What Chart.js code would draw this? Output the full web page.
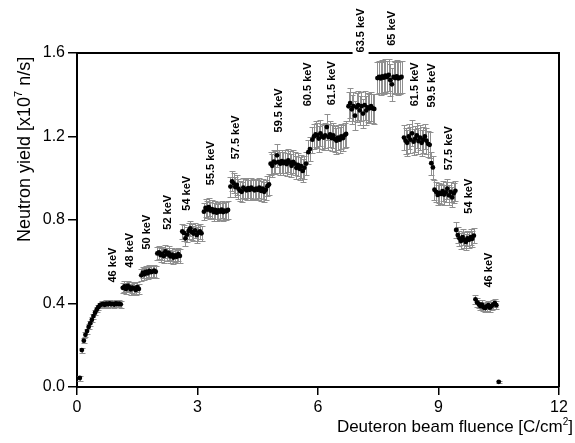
<!DOCTYPE html>
<html>
<head>
<meta charset="utf-8">
<script src="https://cdn.jsdelivr.net/npm/chart.js@4.4.1/dist/chart.umd.min.js"></script>
<style>
  html, body { margin: 0; padding: 0; background: #fff; }
</style>
</head>
<body>
<canvas id="yieldChart" width="575" height="443"></canvas>
<script>
// fluence [C/cm2] and neutron yield [x10^7 n/s], one array per energy step
const segFluence = [
  [0.07, 0.12, 0.17, 0.21, 0.25, 0.29, 0.33, 0.37, 0.41, 0.45, 0.49, 0.53, 0.57],
  [0.61, 0.65, 0.69, 0.73, 0.77, 0.81, 0.85, 0.89, 0.93, 0.97, 1.01, 1.05, 1.09],
  [1.14, 1.18, 1.22, 1.26, 1.30, 1.34, 1.38, 1.42, 1.46, 1.50, 1.54],
  [1.60, 1.64, 1.68, 1.72, 1.76, 1.80, 1.84, 1.88, 1.92, 1.96],
  [2.00, 2.04, 2.08, 2.12, 2.16, 2.20, 2.24, 2.28, 2.32, 2.36, 2.40, 2.44, 2.48, 2.52, 2.56],
  [2.62, 2.66, 2.70, 2.74, 2.78, 2.82, 2.86, 2.90, 2.94, 2.98, 3.02, 3.06, 3.10],
  [3.16, 3.20, 3.24, 3.28, 3.32, 3.36, 3.40, 3.44, 3.48, 3.52, 3.56, 3.60, 3.64, 3.68, 3.72, 3.76],
  [3.82, 3.86, 3.90, 3.94, 3.98, 4.02, 4.06, 4.10, 4.14, 4.18, 4.22, 4.26, 4.30, 4.34, 4.38, 4.42, 4.46, 4.50, 4.54, 4.58, 4.62, 4.66, 4.70, 4.74, 4.78],
  [4.82, 4.86, 4.90, 4.94, 4.98, 5.02, 5.06, 5.10, 5.14, 5.18, 5.22, 5.26, 5.30, 5.34, 5.38, 5.42, 5.46, 5.50, 5.54, 5.58, 5.62, 5.66, 5.70],
  [5.76, 5.80],
  [5.86, 5.90, 5.94, 5.98, 6.02, 6.06, 6.10, 6.14, 6.18, 6.22, 6.26, 6.30, 6.34, 6.38, 6.42, 6.46, 6.50, 6.54, 6.58, 6.62, 6.66, 6.70],
  [6.76, 6.80, 6.84, 6.88, 6.92, 6.96, 7.00, 7.04, 7.08, 7.12, 7.16, 7.20, 7.24, 7.28, 7.32, 7.36, 7.40],
  [7.48, 7.52, 7.56, 7.60, 7.64, 7.68, 7.72, 7.76, 7.80, 7.84, 7.88, 7.92, 7.96, 8.00, 8.04, 8.08],
  [8.14, 8.18, 8.22, 8.26, 8.30, 8.34, 8.38, 8.42, 8.46, 8.50, 8.54, 8.58, 8.62, 8.66, 8.70, 8.74, 8.78],
  [8.82, 8.86],
  [8.90, 8.94, 8.98, 9.02, 9.06, 9.10, 9.14, 9.18, 9.22, 9.26, 9.30, 9.34, 9.38, 9.42],
  [9.44, 9.48, 9.52, 9.56, 9.60, 9.64, 9.68, 9.72, 9.76, 9.80, 9.84, 9.88],
  [9.92, 9.96, 10.00, 10.04, 10.08, 10.12, 10.16, 10.20, 10.24, 10.28, 10.32, 10.36, 10.40, 10.44],
  [10.50]
];
const segYield = [
  [0.043, 0.177, 0.222, 0.250, 0.268, 0.288, 0.305, 0.322, 0.340, 0.356, 0.370, 0.382, 0.392],
  [0.396, 0.398, 0.394, 0.399, 0.396, 0.400, 0.397, 0.398, 0.395, 0.400, 0.397, 0.399, 0.396],
  [0.475, 0.482, 0.470, 0.485, 0.478, 0.468, 0.476, 0.472, 0.465, 0.478, 0.470],
  [0.535, 0.548, 0.540, 0.552, 0.545, 0.556, 0.550, 0.553, 0.557, 0.552],
  [0.640, 0.645, 0.632, 0.638, 0.628, 0.650, 0.636, 0.642, 0.626, 0.634, 0.620, 0.630, 0.624, 0.636, 0.628],
  [0.745, 0.738, 0.712, 0.730, 0.748, 0.760, 0.742, 0.735, 0.750, 0.728, 0.738, 0.745, 0.736],
  [0.840, 0.858, 0.850, 0.862, 0.845, 0.852, 0.838, 0.848, 0.835, 0.846, 0.840, 0.850, 0.838, 0.845, 0.842, 0.848],
  [0.960, 0.985, 0.975, 0.958, 0.968, 0.950, 0.940, 0.935, 0.955, 0.948, 0.942, 0.952, 0.945, 0.955, 0.948, 0.942, 0.950, 0.945, 0.955, 0.940, 0.950, 0.935, 0.945, 0.962, 0.970],
  [1.070, 1.060, 1.080, 1.075, 1.110, 1.078, 1.070, 1.082, 1.072, 1.080, 1.068, 1.085, 1.075, 1.060, 1.078, 1.070, 1.050, 1.064, 1.045, 1.058, 1.035, 1.050, 1.070],
  [1.125, 1.140],
  [1.185, 1.200, 1.210, 1.205, 1.190, 1.215, 1.200, 1.195, 1.205, 1.245, 1.198, 1.210, 1.192, 1.205, 1.188, 1.180, 1.195, 1.185, 1.200, 1.192, 1.205, 1.212],
  [1.345, 1.360, 1.330, 1.345, 1.300, 1.340, 1.350, 1.325, 1.345, 1.310, 1.350, 1.325, 1.340, 1.335, 1.345, 1.335, 1.332],
  [1.480, 1.485, 1.478, 1.488, 1.482, 1.492, 1.485, 1.495, 1.470, 1.450, 1.485, 1.480, 1.488, 1.478, 1.482, 1.485],
  [1.195, 1.180, 1.170, 1.200, 1.185, 1.215, 1.175, 1.190, 1.205, 1.178, 1.195, 1.170, 1.185, 1.200, 1.180, 1.165, 1.160],
  [1.072, 1.052],
  [0.945, 0.935, 0.920, 0.930, 0.925, 0.938, 0.922, 0.932, 0.950, 0.918, 0.935, 0.908, 0.928, 0.940],
  [0.752, 0.728, 0.712, 0.700, 0.718, 0.705, 0.695, 0.712, 0.705, 0.718, 0.710, 0.725],
  [0.420, 0.405, 0.398, 0.388, 0.395, 0.382, 0.378, 0.386, 0.392, 0.380, 0.388, 0.395, 0.402, 0.392],
  [0.025]
];
// uncertainty (+/-) of each step
const segError = [0.012, 0.016, 0.025, 0.028, 0.032, 0.037, 0.042, 0.048, 0.055, 0.058, 0.062, 0.07, 0.078, 0.062, 0.055, 0.048, 0.037, 0.02, 0.005];

const keVLabels = ['46 keV', '48 keV', '50 keV', '52 keV', '54 keV', '55.5 keV', '57.5 keV', '59.5 keV', '60.5 keV', '61.5 keV',
                   '63.5 keV', '65 keV', '61.5 keV', '59.5 keV', '57.5 keV', '54 keV', '46 keV'];
const labelX = [0.89, 1.32, 1.74, 2.26, 2.73, 3.33, 3.95, 5.02, 5.74, 6.36, 7.06, 7.83, 8.42, 8.84, 9.27, 9.76, 10.26];
const labelY = [0.584, 0.655, 0.742, 0.837, 0.928, 1.072, 1.196, 1.325, 1.45, 1.455, 1.708, 1.718, 1.45, 1.445, 1.144, 0.914, 0.56];

const xTicks = [0, 3, 6, 9, 12];
const yTicks = [0, 0.4, 0.8, 1.2, 1.6];

const FONT = '"Liberation Sans", Arial, Helvetica, sans-serif';

var points = [];
for (var s = 0; s < segFluence.length; s++) {
    for (var i = 0; i < segFluence[s].length; i++) {
        points.push({ x: segFluence[s][i], y: segYield[s][i], err: segError[s] });
    }
}

// vertical error bars with caps, under the points
const errorBars = {
    id: 'errorBars',
    beforeDatasetsDraw(chart) {
        const ctx = chart.ctx, xs = chart.scales.x, ys = chart.scales.y;
        ctx.save();
        ctx.strokeStyle = '#8f8f8f';
        ctx.lineWidth = 1;
        chart.data.datasets[0].data.forEach(function (p) {
            var px = Math.round(xs.getPixelForValue(p.x)) + 0.5;
            var top = Math.round(ys.getPixelForValue(p.y + p.err)) + 0.5;
            var bot = Math.round(ys.getPixelForValue(p.y - p.err)) + 0.5;
            ctx.beginPath();
            ctx.moveTo(px, top); ctx.lineTo(px, bot);
            ctx.moveTo(px - 3, top); ctx.lineTo(px + 3, top);
            ctx.moveTo(px - 3, bot); ctx.lineTo(px + 3, bot);
            ctx.stroke();
        });
        ctx.restore();
    }
};

function drawParts(ctx, parts, size) {
    // draws text with superscripts starting at 0,0 (baseline), returns width
    var x = 0;
    parts.forEach(function (p) {
        var sup = p[1];
        ctx.font = (sup ? Math.round(size * 0.6) : size) + 'px ' + FONT;
        ctx.fillText(p[0], x, sup ? -size * 0.42 : 0);
        x += ctx.measureText(p[0]).width;
    });
    return x;
}
function measureParts(ctx, parts, size) {
    var w = 0;
    parts.forEach(function (p) {
        ctx.font = (p[1] ? Math.round(size * 0.6) : size) + 'px ' + FONT;
        w += ctx.measureText(p[0]).width;
    });
    return w;
}

// frame, energy labels and axis titles
const decorations = {
    id: 'decorations',
    afterDraw(chart) {
        const ctx = chart.ctx, a = chart.chartArea;
        const xs = chart.scales.x, ys = chart.scales.y;
        ctx.save();
        ctx.strokeStyle = '#000';
        ctx.lineWidth = 2;
        ctx.beginPath();
        ctx.moveTo(a.left, a.top); ctx.lineTo(a.right, a.top); ctx.lineTo(a.right, a.bottom);
        ctx.stroke();

        ctx.font = 'bold 11px ' + FONT;
        ctx.textAlign = 'center';
        ctx.textBaseline = 'middle';
        for (var i = 0; i < keVLabels.length; i++) {
            var lx = xs.getPixelForValue(labelX[i]);
            var ly = ys.getPixelForValue(labelY[i]);
            ctx.save();
            ctx.translate(lx, ly);
            ctx.rotate(-Math.PI / 2);
            if (labelY[i] > 1.6) {
                var w = ctx.measureText(keVLabels[i]).width;
                ctx.fillStyle = '#fff';
                ctx.fillRect(-w / 2 - 3, -8, w + 6, 16);
            }
            ctx.fillStyle = '#000';
            ctx.fillText(keVLabels[i], 0, 0);
            ctx.restore();
        }

        ctx.fillStyle = '#000';
        ctx.textAlign = 'left';
        ctx.textBaseline = 'alphabetic';
        // y title
        ctx.save();
        ctx.translate(30, 242);
        ctx.rotate(-Math.PI / 2);
        drawParts(ctx, [['Neutron yield [x10', false], ['7', true], [' n/s]', false]], 18);
        ctx.restore();
        // x title
        var xParts = [['Deuteron beam fluence [C/cm', false], ['2', true], [']', false]];
        var tw = measureParts(ctx, xParts, 17);
        ctx.save();
        ctx.translate(573 - tw, 432);
        drawParts(ctx, xParts, 17);
        ctx.restore();
        ctx.restore();
    }
};

var ctx = document.getElementById('yieldChart');
var yieldChart = new Chart(ctx, {
    type: 'scatter',
    data: {
        datasets: [{
            data: points,
            backgroundColor: '#000',
            borderWidth: 0,
            pointRadius: 2.4,
            pointHoverRadius: 2.4
        }]
    },
    options: {
        responsive: false,
        animation: false,
        layout: { padding: { left: 0, right: 16, top: 53, bottom: 0 } },
        plugins: { legend: { display: false }, tooltip: { enabled: false } },
        scales: {
            x: {
                type: 'linear', min: 0, max: 12,
                afterBuildTicks: function (s) { s.ticks = xTicks.map(function (v) { return { value: v }; }); },
                afterFit: function (s) { s.height = 56; },
                grid: { drawOnChartArea: false, drawTicks: true, tickLength: 8, color: '#000', lineWidth: 1.5 },
                border: { display: true, color: '#000', width: 2 },
                ticks: {
                    color: '#000', padding: 3, maxRotation: 0,
                    font: { family: FONT, size: 16 },
                    callback: function (v) { return String(v); }
                }
            },
            y: {
                type: 'linear', min: 0, max: 1.6,
                afterBuildTicks: function (s) { s.ticks = yTicks.map(function (v) { return { value: v }; }); },
                afterFit: function (s) { s.width = 77; },
                grid: { drawOnChartArea: false, drawTicks: true, tickLength: 9, color: '#000', lineWidth: 1.5 },
                border: { display: true, color: '#000', width: 2 },
                ticks: {
                    color: '#000', padding: 3,
                    font: { family: FONT, size: 16 },
                    callback: function (v) { return v.toFixed(1); }
                }
            }
        }
    },
    plugins: [errorBars, decorations]
});
</script>
</body>
</html>
